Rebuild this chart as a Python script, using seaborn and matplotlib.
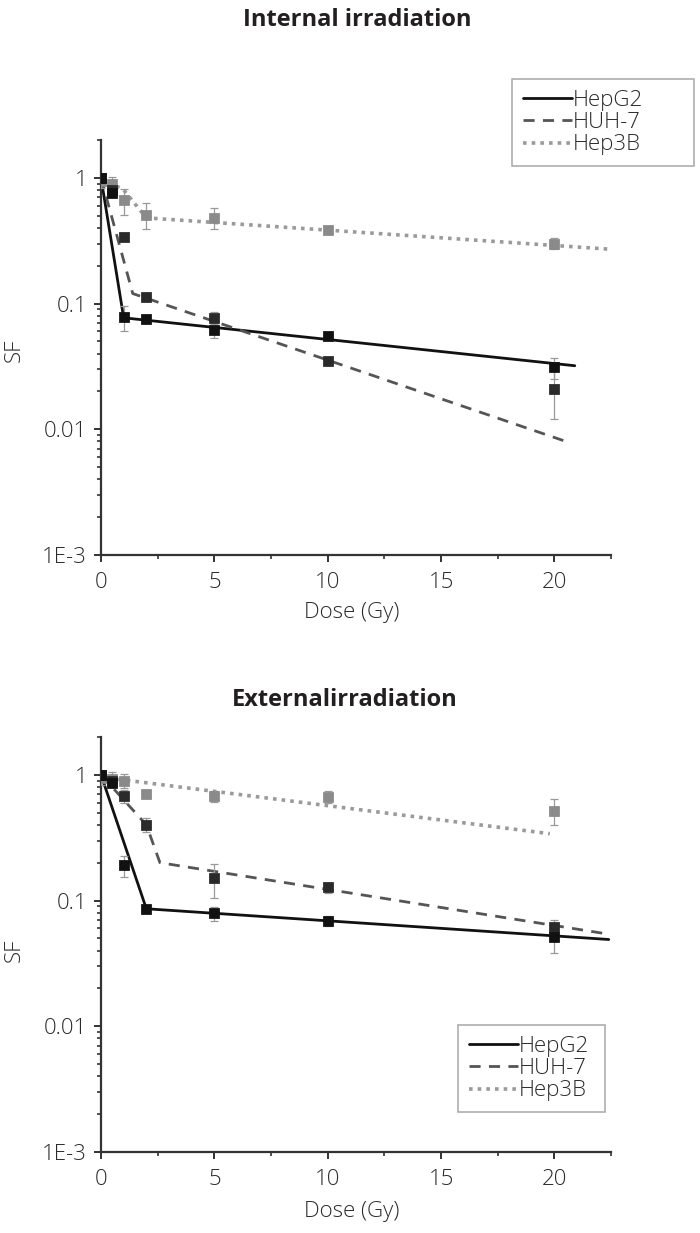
import numpy as np
import pandas as pd
import matplotlib
matplotlib.use("Agg")
import matplotlib.pyplot as plt
import seaborn as sns
from matplotlib.lines import Line2D
from matplotlib.ticker import FixedLocator, NullFormatter

sns.set_theme(style="ticks")
plt.rcParams['font.family'] = ['Open Sans', 'DejaVu Sans']

# ---------------- data ----------------
doses = [0, 0.5, 1, 2, 5, 10, 20]
cell_lines = ["HepG2", "HUH-7", "Hep3B"]

# Internal irradiation: measured SF
int_hepg2 = [1.0, 0.76, 0.078, 0.076, 0.062, 0.055, 0.031]
int_hepg2_err = [0.06, 0.06, 0.018, 0.005, 0.009, 0.003, 0.006]
int_huh7 = [1.0, 0.80, 0.34, 0.112, 0.077, 0.035, 0.021]
int_huh7_err = [0.06, 0.06, 0.02, 0.008, 0.008, 0.002, 0.009]
int_hep3b = [0.95, 0.90, 0.66, 0.51, 0.48, 0.385, 0.30]
int_hep3b_err = [0.12, 0.12, 0.15, 0.12, 0.09, 0.03, 0.03]

# Internal irradiation: fitted curves (dose, SF)
int_fit_hepg2_x = [0, 1.0, 20.9]
int_fit_hepg2_y = [1.0, 0.077, 0.032]
int_fit_huh7_x = [0, 1.4, 20.6]
int_fit_huh7_y = [1.0, 0.12, 0.0079]
int_fit_hep3b_x = [0, 1.0, 2.0, 22.5]
int_fit_hep3b_y = [1.0, 0.80, 0.48, 0.27]

# External irradiation: measured SF
ext_hepg2 = [1.0, 0.86, 0.19, 0.086, 0.079, 0.069, 0.051]
ext_hepg2_err = [0.05, 0.05, 0.035, 0.004, 0.01, 0.006, 0.013]
ext_huh7 = [1.0, 0.90, 0.68, 0.40, 0.15, 0.127, 0.062]
ext_huh7_err = [0.06, 0.06, 0.08, 0.05, 0.045, 0.012, 0.008]
ext_hep3b = [0.95, 0.93, 0.90, 0.71, 0.68, 0.67, 0.52]
ext_hep3b_err = [0.12, 0.12, 0.12, 0.05, 0.07, 0.07, 0.12]

# External irradiation: fitted curves
ext_fit_hepg2_x = [0, 2.0, 22.4]
ext_fit_hepg2_y = [1.0, 0.086, 0.049]
ext_fit_huh7_x = [0, 2.0, 2.6, 22.4]
ext_fit_huh7_y = [1.0, 0.40, 0.20, 0.054]
ext_fit_hep3b_x = [0, 19.8]
ext_fit_hep3b_y = [0.96, 0.34]

y_ticks = [0.001, 0.01, 0.1, 1]
y_ticklabels = ["1E-3", "0.01", "0.1", "1"]
x_ticks = [0, 5, 10, 15, 20]

# ---------------- styles ----------------
line_col = {"HepG2": "#111111", "HUH-7": "#555555", "Hep3B": "#9a9a9a"}
mark_col = {"HepG2": "#111111", "HUH-7": "#2a2a2a", "Hep3B": "#8a8a8a"}
dash_map = {"HepG2": (None, None), "HUH-7": (4, 3), "Hep3B": (1, 1.4)}
lw_map = {"HepG2": 2.0, "HUH-7": 2.0, "Hep3B": 2.6}

FS = 16
TXT = "#2a2a2a"

fig = plt.figure(figsize=(7, 12.33), dpi=100)
ax1 = fig.add_axes([0.1443, 0.5499, 0.7286, 0.3366])
ax2 = fig.add_axes([0.1443, 0.0657, 0.7286, 0.3366])


def draw(ax, meas, errs, fits):
    # fitted lines
    for name in cell_lines:
        fx, fy = fits[name]
        df = pd.DataFrame({"Dose": fx, "SF": fy})
        sns.lineplot(data=df, x="Dose", y="SF", ax=ax, color=line_col[name],
                     lw=lw_map[name], zorder=2, legend=False)
        ln = ax.lines[-1]
        if dash_map[name][0] is not None:
            ln.set_dashes(dash_map[name])
    # measured points with errorbars
    for name in reversed(cell_lines):
        ax.errorbar(doses, meas[name], yerr=errs[name], fmt="none",
                    ecolor="#999999", elinewidth=0.9, capsize=3, capthick=0.9,
                    zorder=3)
        df = pd.DataFrame({"Dose": doses, "SF": meas[name]})
        sns.scatterplot(data=df, x="Dose", y="SF", ax=ax, marker="s", s=48,
                        color=mark_col[name], edgecolor=mark_col[name],
                        zorder=4, legend=False)
    ax.set_yscale("log")
    ax.set_xlim(0, 22.5)
    ax.set_ylim(0.001, 2.0)
    ax.set_yticks(y_ticks)
    ax.set_yticklabels(y_ticklabels)
    ax.set_xticks(x_ticks)
    ax.xaxis.set_minor_locator(FixedLocator([2.5, 7.5, 12.5, 17.5, 22.5]))
    ax.yaxis.set_minor_formatter(NullFormatter())
    for s in ["top", "right"]:
        ax.spines[s].set_visible(False)
    for s in ["left", "bottom"]:
        ax.spines[s].set_color("#333333")
        ax.spines[s].set_linewidth(1.6)
    ax.tick_params(axis="both", which="major", direction="out", length=5,
                   width=1.4, color="#333333", labelsize=FS,
                   labelcolor=TXT)
    ax.tick_params(axis="x", which="major", pad=7)
    ax.tick_params(axis="y", which="major", pad=5)
    ax.tick_params(axis="both", which="minor", direction="out", length=3,
                   width=1.2, color="#333333")
    ax.set_xlabel("")
    ax.set_ylabel("")
    for t in ax.get_xticklabels() + ax.get_yticklabels():
        t.set_fontweight("light")


draw(ax1,
     {"HepG2": int_hepg2, "HUH-7": int_huh7, "Hep3B": int_hep3b},
     {"HepG2": int_hepg2_err, "HUH-7": int_huh7_err, "Hep3B": int_hep3b_err},
     {"HepG2": (int_fit_hepg2_x, int_fit_hepg2_y),
      "HUH-7": (int_fit_huh7_x, int_fit_huh7_y),
      "Hep3B": (int_fit_hep3b_x, int_fit_hep3b_y)})
draw(ax2,
     {"HepG2": ext_hepg2, "HUH-7": ext_huh7, "Hep3B": ext_hep3b},
     {"HepG2": ext_hepg2_err, "HUH-7": ext_huh7_err, "Hep3B": ext_hep3b_err},
     {"HepG2": (ext_fit_hepg2_x, ext_fit_hepg2_y),
      "HUH-7": (ext_fit_huh7_x, ext_fit_huh7_y),
      "Hep3B": (ext_fit_hep3b_x, ext_fit_hep3b_y)})

# legends
def handles():
    hs = []
    for name in cell_lines:
        h = Line2D([0], [0], color=line_col[name], lw=lw_map[name])
        if dash_map[name][0] is not None:
            h.set_dashes(dash_map[name])
        hs.append(h)
    return hs

# (left, top, width) of each legend box in pixels
legend_boxes = [(512, 79, 182), (458, 1025, 147)]
for (lx, ty, w) in legend_boxes:
    leg = fig.legend(handles(), cell_lines, loc="upper left",
                     bbox_to_anchor=(lx / 700, 1 - ty / 1233, w / 700, 0),
                     mode="expand", frameon=True, fancybox=False,
                     edgecolor="#999999", fontsize=FS, handlelength=2.2,
                     handletextpad=0.05, labelspacing=0.05, borderpad=0.5,
                     borderaxespad=0)
    leg.get_frame().set_linewidth(1.2)
    for t in leg.get_texts():
        t.set_color(TXT)
        t.set_fontweight("light")

# titles and labels
fig.text(357 / 700, 1 - 20 / 1233, "Internal irradiation", ha="center",
         va="center", fontsize=17, fontweight="bold", color="#231f20")
fig.text(345 / 700, 1 - 700 / 1233, "Externalirradiation", ha="center",
         va="center", fontsize=17, fontweight="bold", color="#231f20")
for yc in [350, 950]:
    fig.text(14 / 700, 1 - yc / 1233, "SF", rotation=90, ha="center",
             va="center", fontsize=FS, color=TXT, fontweight="light")
for yc in [612, 1212]:
    fig.text(352 / 700, 1 - yc / 1233, "Dose (Gy)", ha="center", va="center",
             fontsize=FS, color=TXT, fontweight="light")

fig.savefig("out.png", dpi=100, facecolor="white")
